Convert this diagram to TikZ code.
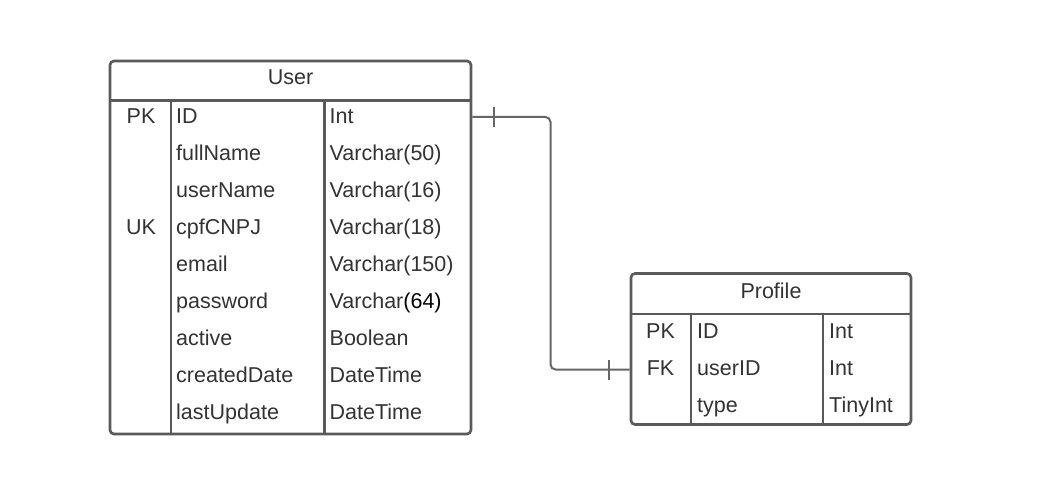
\documentclass[tikz,border=0pt]{standalone}
\usepackage{fontspec}
\setmainfont{Liberation Sans}
\usetikzlibrary{calc}
\definecolor{rule}{HTML}{5A5A5A}
\definecolor{link}{HTML}{666666}
\definecolor{ink}{HTML}{333333}
\tikzset{
  tbl/.style={draw=rule, line width=2.6pt, rounded corners=4pt, inner sep=0pt, fill=white},
  sep/.style={draw=rule, line width=2.6pt},
  cell/.style={text=ink, inner sep=0pt, font=\fontsize{21.5}{26}\selectfont},
  keycell/.style={cell, anchor=base},
  namecell/.style={cell, anchor=base west},
  title/.style={cell, anchor=base},
  rel/.style={draw=link, line width=2pt, rounded corners=5pt},
  tick/.style={draw=link, line width=2pt},
}
\begin{document}
\begin{tikzpicture}[x=1pt, y=-1pt]
\useasboundingbox (0,0) rectangle (1046,500);

% ---- User table ----
\node[tbl, minimum width=361pt, minimum height=373pt] (user) at (290.5,247.5) {};
\draw[sep] (user.west |- 0,100.5) -- (user.east |- 0,100.5);
\draw[sep] (171,100.5) -- (171,0 |- user.south);
\draw[sep] (324.5,100.5) -- (324.5,0 |- user.south);
\node[title] (usertitle) at (290.5,85) {User};

\node[keycell] (upk) at (141,123.3) {PK};
\node[keycell] (uuk) at (141,234.3) {UK};

\node[namecell] (uid)   at (176,123.3) {ID};
\node[namecell] (ufull) at (176,160.3) {fullName};
\node[namecell] (uuser) at (176,197.3) {userName};
\node[namecell] (ucpf)  at (176,234.3) {cpfCNPJ};
\node[namecell] (umail) at (176,271.3) {email};
\node[namecell] (upass) at (176,308.3) {password};
\node[namecell] (uact)  at (176,345.3) {active};
\node[namecell] (ucrd)  at (176,382.3) {createdDate};
\node[namecell] (ulast) at (176,419.3) {lastUpdate};

\node[namecell] (tid)   at (329.5,123.3) {Int};
\node[namecell] (tfull) at (329.5,160.3) {Varchar(50)};
\node[namecell] (tuser) at (329.5,197.3) {Varchar(16)};
\node[namecell] (tcpf)  at (329.5,234.3) {Varchar(18)};
\node[namecell] (tmail) at (329.5,271.3) {Varchar(150)};
\node[namecell] (tpass) at (329.5,308.3) {Varchar\textcolor{black}{(64)}};
\node[namecell] (tact)  at (329.5,345.3) {Boolean};
\node[namecell] (tcrd)  at (329.5,382.3) {DateTime};
\node[namecell] (tlast) at (329.5,419.3) {DateTime};

% ---- Profile table ----
\node[tbl, minimum width=280pt, minimum height=151pt] (profile) at (771,349) {};
\draw[sep] (profile.west |- 0,314) -- (profile.east |- 0,314);
\draw[sep] (691,314) -- (691,0 |- profile.south);
\draw[sep] (823,314) -- (823,0 |- profile.south);
\node[title] (proftitle) at (771,298.3) {Profile};

\node[keycell] (ppk) at (660.5,338.3) {PK};
\node[keycell] (pfk) at (660.5,375.3) {FK};

\node[namecell] (pid)   at (697,338.3) {ID};
\node[namecell] (puid)  at (697,375.3) {userID};
\node[namecell] (ptype) at (697,412.3) {type};

\node[namecell] (qid)   at (829,338.3) {Int};
\node[namecell] (quid)  at (829,375.3) {Int};
\node[namecell] (qtype) at (829,412.3) {TinyInt};

% ---- one-to-one relation User.ID -- Profile.userID ----
\coordinate (relA) at (user.east |- 0,117);
\coordinate (relB) at (profile.west |- 0,369.5);
\coordinate (relK1) at (550.5,117);
\coordinate (relK2) at (550.5,369.5);
\draw[rel] (relA) -- (relK1) -- (relK2) -- (relB);
\draw[tick] ($(relA)+(22,-10)$) -- ($(relA)+(22,10)$);
\draw[tick] ($(relB)+(-21,-10)$) -- ($(relB)+(-21,10)$);
\end{tikzpicture}
\end{document}
